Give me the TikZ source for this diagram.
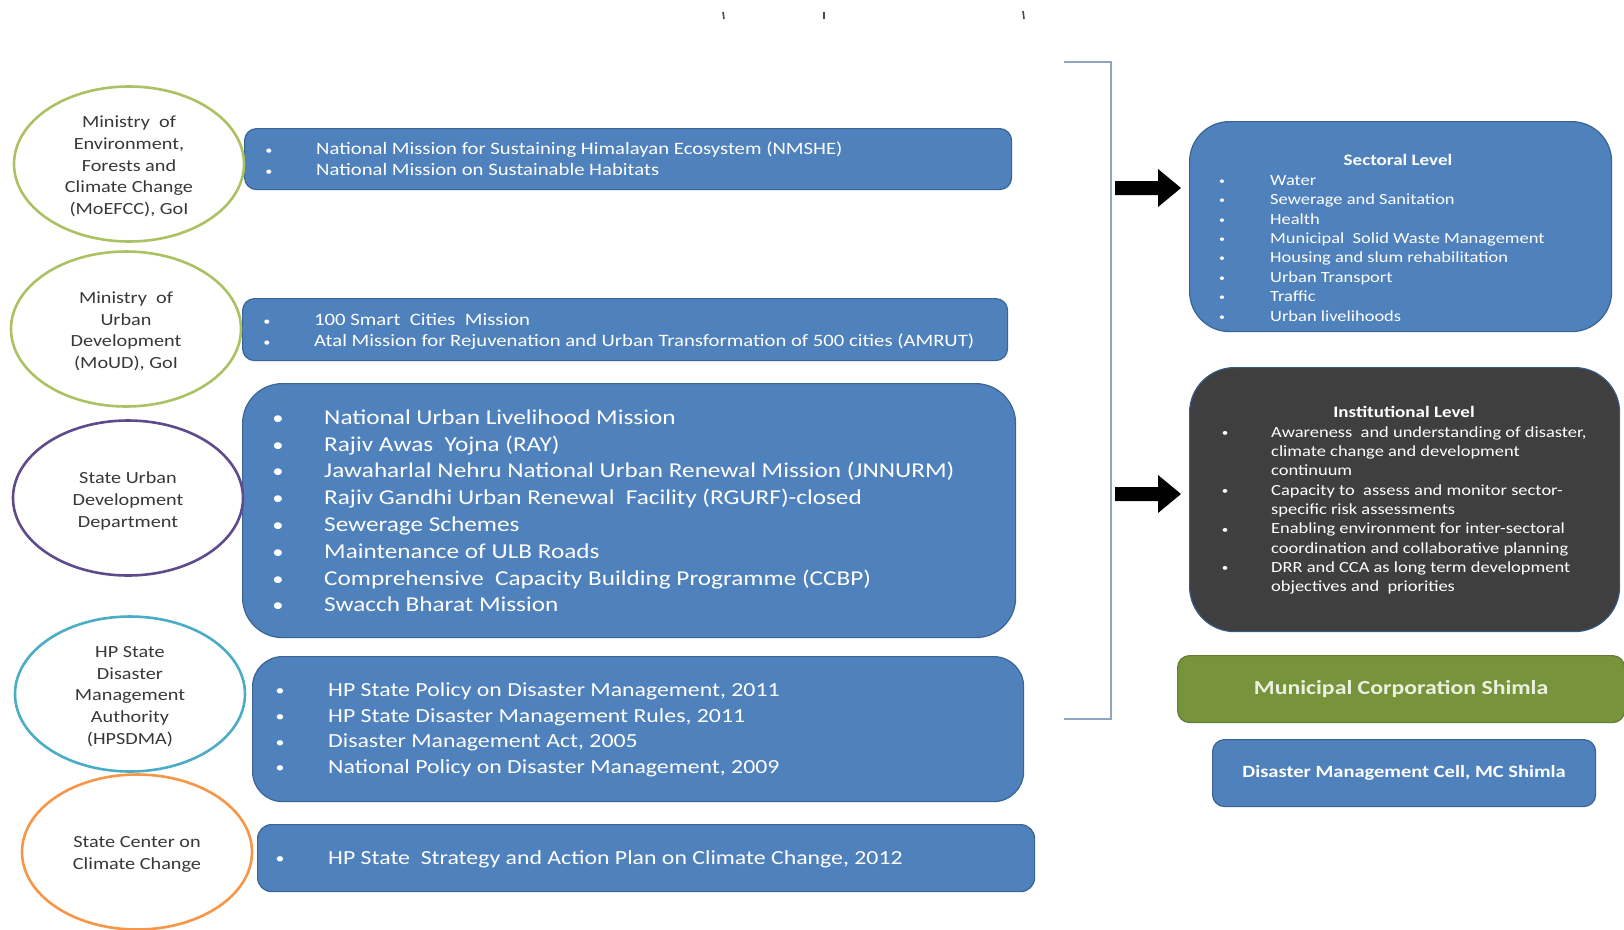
\documentclass[tikz,border=0pt]{standalone}
\usepackage{fontspec}
\setmainfont{Carlito}[FakeStretch=1.19]
\usetikzlibrary{shapes.geometric}
\definecolor{boxblue}{HTML}{4F81BD}
\definecolor{boxedge}{HTML}{3A6493}
\definecolor{darkbox}{HTML}{3F3F3F}
\definecolor{mcgreen}{HTML}{77933C}
\definecolor{mctext}{HTML}{EBF1DE}
\definecolor{olivee}{HTML}{ABC262}
\definecolor{purplee}{HTML}{5F4B8B}
\definecolor{teale}{HTML}{4BACC6}
\definecolor{orangee}{HTML}{F79646}
\definecolor{brack}{HTML}{8FA5C2}
\definecolor{ovaltext}{HTML}{383838}
\tikzset{
  bluebox/.style={draw=boxedge, line width=1.2pt, fill=boxblue, anchor=north west, inner sep=0pt},
  oval/.style={ellipse, fill=white, line width=2.6pt, inner sep=0pt,
               minimum width=230pt, minimum height=155pt},
  ovaltxt/.style={inner sep=0pt, align=center, text=ovaltext, font=\fontsize{17}{21.6}\selectfont},
  itm/.style={anchor=mid west, inner sep=0pt, text=white},
  bul/.style={anchor=center, inner sep=0pt, text=white},
  ttl/.style={anchor=center, inner sep=0pt, text=white, font=\bfseries\fontsize{16}{19}\selectfont},
  blockarrow/.style={fill=black, draw=none},
  tick/.style={line width=1.6pt, draw=black!70},
}
\begin{document}
\begin{tikzpicture}[x=1pt, y=-1pt]
\useasboundingbox (0,0) rectangle (1624,929);
\fill[white] (0,0) rectangle (1624,929);

% top tick remnants
\draw[tick] (723,12) -- (724,19);
\draw[tick] (824,12) -- (824,19);
\draw[tick] (1023,11) -- (1024,19);

% ---------- left boxes ----------
\node[bluebox, rounded corners=12pt, minimum width=767pt, minimum height=61pt] (b1) at (244,128) {};
\node[bluebox, rounded corners=12pt, minimum width=765pt, minimum height=62pt] (b2) at (242,298) {};
\node[bluebox, rounded corners=40pt, minimum width=773pt, minimum height=254pt] (b3) at (242,383) {};
\node[bluebox, rounded corners=30pt, minimum width=771pt, minimum height=145pt] (b4) at (252,656) {};
\node[bluebox, rounded corners=14pt, minimum width=777pt, minimum height=67pt] (b5) at (257,824) {};

% box 1 text
\foreach \t [count=\i from 0] in {National Mission for Sustaining Himalayan Ecosystem (NMSHE), National Mission on Sustainable Habitats} {
  \node[bul, font=\fontsize{12}{14}\selectfont] (b1b\i) at (269,152+21*\i) {\textbullet};
  \node[itm, font=\fontsize{17.4}{21}\selectfont] (b1t\i) at (316,152+21*\i) {\t};
}
% box 2 text
\foreach \t [count=\i from 0] in {100 Smart\ \ Cities\ \ Mission, Atal Mission for Rejuvenation and Urban Transformation of 500 cities (AMRUT)} {
  \node[bul, font=\fontsize{12}{14}\selectfont] (b2b\i) at (267,323+21*\i) {\textbullet};
  \node[itm, font=\fontsize{17.4}{21}\selectfont] (b2t\i) at (314,323+21*\i) {\t};
}
% box 3 text
\foreach \t [count=\i from 0] in {National Urban Livelihood Mission, Rajiv Awas\ \ Yojna (RAY), Jawaharlal Nehru National Urban Renewal Mission (JNNURM), Rajiv Gandhi Urban Renewal\ \ Facility (RGURF)-closed, Sewerage Schemes, Maintenance of ULB Roads, Comprehensive\ \ Capacity Building Programme (CCBP), Swacch Bharat Mission} {
  \node[bul, font=\fontsize{19}{22}\selectfont] (b3b\i) at (278,420+26.8*\i) {\textbullet};
  \node[itm, font=\fontsize{21.2}{26}\selectfont] (b3t\i) at (324,422+26.8*\i) {\t};
}
% box 4 text
\foreach \t [count=\i from 0] in {{HP State Policy on Disaster Management, 2011}, {HP State Disaster Management Rules, 2011}, {Disaster Management Act, 2005}, {National Policy on Disaster Management, 2009}} {
  \node[bul, font=\fontsize{15}{17}\selectfont] (b4b\i) at (280,692+25.8*\i) {\textbullet};
  \node[itm, font=\fontsize{20}{25}\selectfont] (b4t\i) at (328,694+25.8*\i) {\t};
}
% box 5 text
\node[bul, font=\fontsize{15}{17}\selectfont] (b5b0) at (280,860) {\textbullet};
\node[itm, font=\fontsize{20}{25}\selectfont] (b5t0) at (328,862) {HP State\ \ Strategy and Action Plan on Climate Change, 2012};

% ---------- ovals ----------
\node[oval, draw=olivee] (e1) at (129,164) {};
\node[oval, draw=olivee] (e2) at (126,329) {};
\node[oval, draw=purplee] (e3) at (128,498) {};
\node[oval, draw=teale] (e4) at (130,694) {};
\node[oval, draw=orangee] (e5) at (137,852) {};
\node[ovaltxt] (e1t) at ([yshift=-2.5pt]e1.center) {Ministry\ \ of\\Environment,\\Forests and\\Climate Change\\(MoEFCC), GoI};
\node[ovaltxt] (e2t) at ([yshift=-2.5pt]e2.center) {Ministry\ \ of\\Urban\\Development\\(MoUD), GoI};
\node[ovaltxt] (e3t) at ([yshift=-3pt]e3.center) {State Urban\\Development\\Department};
\node[ovaltxt] (e4t) at ([yshift=-2.5pt]e4.center) {HP State\\Disaster\\Management\\Authority\\(HPSDMA)};
\node[ovaltxt] (e5t) at ([yshift=-2.5pt]e5.center) {State Center on\\Climate Change};

% ---------- bracket ----------
\coordinate (brT) at (1064,62);
\coordinate (brB) at (1064,719);
\draw[brack, line width=1.5pt] (brT) -- (1111,62) -- (1111,719) -- (brB);

% ---------- right boxes ----------
\node[bluebox, rounded corners=40pt, minimum width=422pt, minimum height=210pt] (sect) at (1189,121) {};
\node[bluebox, fill=darkbox, draw=boxblue!70!black, rounded corners=45pt, minimum width=430pt, minimum height=264pt] (inst) at (1189,367) {};
\node[bluebox, fill=mcgreen, draw=mcgreen!85!black, rounded corners=12pt, minimum width=447pt, minimum height=67pt] (mc) at (1177,655) {};
\node[bluebox, rounded corners=12pt, minimum width=383pt, minimum height=67pt] (dmc) at (1212,739) {};

% arrows
\fill[blockarrow] (1115,181) -- (1158,181) -- (1158,169) -- (1181,188) -- (1158,207) -- (1158,195) -- (1115,195) -- cycle;
\fill[blockarrow] (1115,487) -- (1158,487) -- (1158,475) -- (1181,494) -- (1158,513) -- (1158,501) -- (1115,501) -- cycle;

% sectoral text
\node[ttl] (sectT) at (1398,160) {Sectoral Level};
\foreach \t [count=\i from 0] in {Water, Sewerage and Sanitation, Health, Municipal\ \ Solid Waste Management, Housing and slum rehabilitation, Urban Transport, Traffic, Urban livelihoods} {
  \node[bul, font=\fontsize{10}{12}\selectfont] (sb\i) at (1222,182+19.4*\i) {\textbullet};
  \node[itm, font=\fontsize{15.5}{19}\selectfont] (st\i) at (1270,183+19.4*\i) {\t};
}

% institutional text
\node[ttl] (instT) at (1404,412) {Institutional Level};
\foreach \t [count=\i from 0] in {{Awareness\ \ and understanding of disaster,}, climate change and development, continuum, Capacity to\ \ assess and monitor sector-, specific risk assessments, Enabling environment for inter-sectoral, coordination and collaborative planning, DRR and CCA as long term development, objectives and\ \ priorities} {
  \node[itm, font=\fontsize{15.5}{19}\selectfont] (it\i) at (1271,435+19.3*\i) {\t};
}
\foreach \k in {0,3,5,7} {
  \node[bul, font=\fontsize{11}{13}\selectfont] (ib\k) at (1225,434+19.3*\k) {\textbullet};
}

% bottom right labels
\node[anchor=center, inner sep=0pt, text=mctext, font=\bfseries\fontsize{20}{24}\selectfont] (mcT) at (mc.center) {Municipal Corporation Shimla};
\node[anchor=center, inner sep=0pt, text=white, font=\bfseries\fontsize{17.2}{20}\selectfont] (dmcT) at (dmc.center) {Disaster Management Cell, MC Shimla};
\end{tikzpicture}
\end{document}
